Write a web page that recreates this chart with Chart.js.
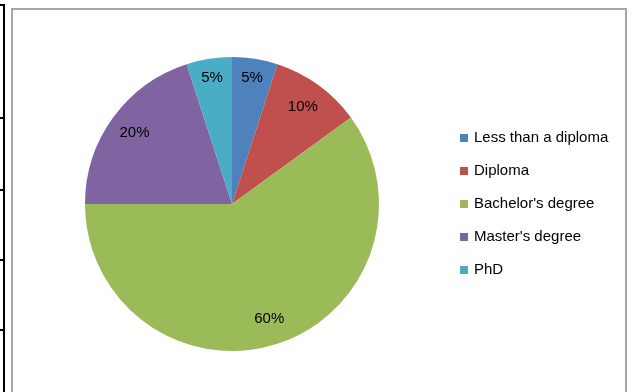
<!DOCTYPE html>
<html lang="en">
  <head>
    <meta charset="utf-8">
    <title>Education level</title>
    <style>
      body { margin: 0; background: #fff; }
      #wrap { position: relative; width: 634px; height: 392px; overflow: hidden; }
      #myChart { position: absolute; left: 0; top: 0; }
      .frame { position: absolute; left: 11px; top: 8px; width: 612px; height: 400px; border: 2px solid #a6a6a6; }
      .vline { position: absolute; left: 3px; top: 5px; width: 2px; height: 400px; background: #000; }
      .tick { position: absolute; left: 0; width: 5px; height: 2px; background: #000; }
    </style>
  </head>
  <body>
    <div id="wrap">
      <div class="vline"></div>
      <div class="tick" style="top:4px"></div>
      <div class="tick" style="top:117px"></div>
      <div class="tick" style="top:189px"></div>
      <div class="tick" style="top:259px"></div>
      <div class="tick" style="top:329px"></div>
      <div class="frame"></div>
      <canvas id="myChart" width="634" height="392"></canvas>
    </div>

    <script src="https://cdn.jsdelivr.net/npm/chart.js@4.4.0/dist/chart.umd.min.js"></script>
    <script>
      const categories = ['Less than a diploma', 'Diploma', "Bachelor's degree", "Master's degree", 'PhD'];
      const shares = [5, 10, 60, 20, 5];
      const colors = ['#4f81bd', '#c0504d', '#9bbb59', '#8064a2', '#4bacc6'];
      const fontFamily = "'Liberation Sans', 'DejaVu Sans', sans-serif";

      // percent labels inside the slices
      const sliceLabels = {
        id: 'sliceLabels',
        afterDatasetsDraw(chart) {
          const ctx = chart.ctx;
          const meta = chart.getDatasetMeta(0);
          ctx.save();
          ctx.font = '15px ' + fontFamily;
          ctx.fillStyle = '#000';
          ctx.textAlign = 'center';
          ctx.textBaseline = 'middle';
          meta.data.forEach((arc, i) => {
            const p = arc.getProps(['x', 'y', 'startAngle', 'endAngle', 'outerRadius'], true);
            const mid = (p.startAngle + p.endAngle) / 2;
            const r = p.outerRadius * (shares[i] <= 5 ? 0.87 : 0.82);
            ctx.fillText(shares[i] + '%', p.x + Math.cos(mid) * r, p.y + Math.sin(mid) * r);
          });
          ctx.restore();
        }
      };

      // legend on the right, drawn from the same arrays
      const sideLegend = {
        id: 'sideLegend',
        afterDraw(chart) {
          const ctx = chart.ctx;
          ctx.save();
          ctx.font = '15px ' + fontFamily;
          ctx.textBaseline = 'middle';
          categories.forEach((c, i) => {
            const y = 138 + i * 33;
            ctx.fillStyle = colors[i];
            ctx.fillRect(460, y - 4, 8, 8);
            ctx.fillStyle = '#000';
            ctx.fillText(c, 474, y);
          });
          ctx.restore();
        }
      };

      var ctx = document.getElementById('myChart').getContext('2d');
      var chart = new Chart(ctx, {
        type: 'pie',
        data: {
          labels: categories,
          datasets: [{
            data: shares,
            backgroundColor: colors,
            borderWidth: 0
          }]
        },
        options: {
          responsive: false,
          animation: false,
          layout: { padding: { left: 85, top: 57, right: 255, bottom: 41 } },
          plugins: {
            legend: { display: false },
            tooltip: { enabled: false }
          }
        },
        plugins: [sliceLabels, sideLegend]
      });
    </script>
  </body>
</html>
